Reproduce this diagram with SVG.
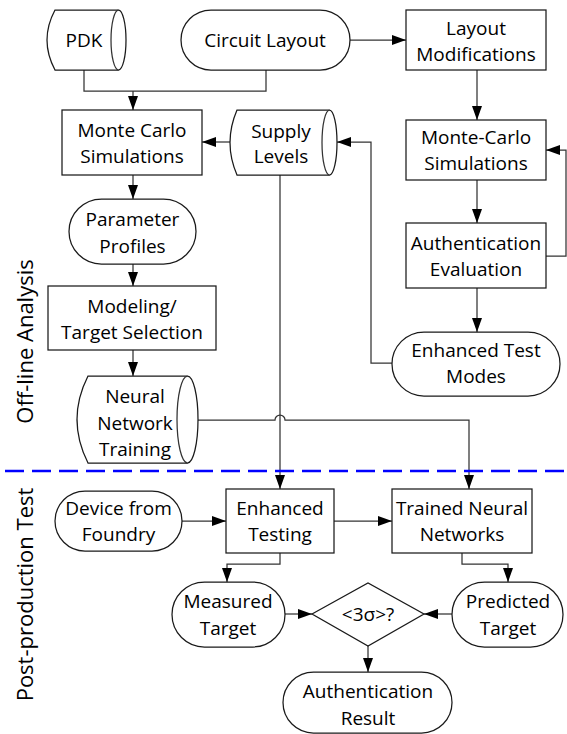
<svg xmlns="http://www.w3.org/2000/svg" width="567" height="734" viewBox="0 0 567 734">
<defs>
<marker id="arr" markerUnits="userSpaceOnUse" markerWidth="14" markerHeight="10" refX="14" refY="5" orient="auto">
<path d="M0,0 L14,5 L0,10 Z" fill="#000"/>
</marker>
<style>
.s{fill:#fff;stroke:#1a1a1a;stroke-width:1.25}
.c{fill:none;stroke:#333;stroke-width:1.25;marker-end:url(#arr)}
.n{fill:none;stroke:#333;stroke-width:1.25}
text{font-family:"Open Sans","Liberation Sans",Arial,sans-serif;font-size:19px;fill:#000;text-anchor:middle}
.side{font-size:22px}
</style>
</defs>
<rect width="567" height="734" fill="#fff"/>

<g id="connectors">
<path class="n" d="M84,70 V91 H266 V70"/>
<path class="c" d="M133,91 V110"/>
<path class="c" d="M350,40 H406"/>
<path class="c" d="M230,142 H202"/>
<path class="c" d="M477,70 V120"/>
<path class="c" d="M477,180 V223"/>
<path class="c" d="M477,288 V332"/>
<path class="c" d="M546,256 H566 V150 H546"/>
<path class="c" d="M392,363 H371 V142 H337"/>
<path class="c" d="M133,175 V199"/>
<path class="c" d="M133,264 V286"/>
<path class="c" d="M133,350 V376"/>
<path class="c" d="M280,175 V489"/>
<path class="c" d="M198,420 H275 A5,5 0 0 1 285,420 H469 V489"/>
<path class="c" d="M182,521 H226"/>
<path class="c" d="M334,521 H392"/>
<path class="c" d="M280,553 V564 H227 V582"/>
<path class="c" d="M462,553 V564 H508 V582"/>
<path class="c" d="M285,614 H312"/>
<path class="c" d="M452,614 H424"/>
<path class="c" d="M368,646 V672"/>
</g>

<line x1="5" y1="471" x2="567" y2="471" stroke="#0000ff" stroke-width="2.5" stroke-dasharray="19 8"/>

<g id="pdk">
<path class="s" d="M55,10 H118.5 A7.5,30 0 0 1 118.5,70 H55 Q39,40 55,10 Z"/>
<path class="n" d="M118.5,10 A7.5,30 0 0 0 118.5,70"/>
<text x="84" y="47">PDK</text>
</g>

<g id="circuit-layout">
<rect class="s" x="181" y="10" width="169" height="60" rx="30" ry="30"/>
<text x="265" y="47">Circuit Layout</text>
</g>

<g id="layout-modifications">
<rect class="s" x="406" y="10" width="140" height="60"/>
<text x="476" y="35">Layout</text>
<text x="476" y="61">Modifications</text>
</g>

<g id="monte-carlo-1">
<rect class="s" x="62" y="110" width="140" height="65"/>
<text x="132" y="137">Monte Carlo</text>
<text x="132" y="163">Simulations</text>
</g>

<g id="supply-levels">
<path class="s" d="M237,110 H329.5 A7.5,32.5 0 0 1 329.5,175 H237 Q223,142.5 237,110 Z"/>
<path class="n" d="M329.5,110 A7.5,32.5 0 0 0 329.5,175"/>
<text x="281" y="138">Supply</text>
<text x="281" y="163">Levels</text>
</g>

<g id="monte-carlo-2">
<rect class="s" x="406" y="120" width="140" height="60"/>
<text x="476" y="144">Monte-Carlo</text>
<text x="476" y="170">Simulations</text>
</g>

<g id="parameter-profiles">
<rect class="s" x="69" y="199" width="127" height="65" rx="32.5" ry="32.5"/>
<text x="132.5" y="226">Parameter</text>
<text x="132.5" y="253">Profiles</text>
</g>

<g id="authentication-evaluation">
<rect class="s" x="406" y="223" width="140" height="65"/>
<text x="476" y="250">Authentication</text>
<text x="476" y="276">Evaluation</text>
</g>

<g id="modeling">
<rect class="s" x="48" y="286" width="168" height="64"/>
<text x="132" y="313">Modeling/</text>
<text x="132" y="339">Target Selection</text>
</g>

<g id="enhanced-test-modes">
<rect class="s" x="392" y="332" width="168" height="64" rx="32" ry="32"/>
<text x="476" y="357">Enhanced Test</text>
<text x="476" y="383">Modes</text>
</g>

<g id="nn-training">
<path class="s" d="M88,376 H187.5 A10.5,43.5 0 0 1 187.5,463 H88 Q66,419.5 88,376 Z"/>
<path class="n" d="M187.5,376 A10.5,43.5 0 0 0 187.5,463"/>
<text x="135" y="403">Neural</text>
<text x="135" y="430">Network</text>
<text x="135" y="456">Training</text>
</g>

<text class="side" transform="translate(33,341.5) rotate(-90)">Off-line Analysis</text>
<text class="side" transform="translate(33,594.5) rotate(-90)">Post-production Test</text>

<g id="device-from-foundry">
<rect class="s" x="55" y="491" width="127" height="60" rx="30" ry="30"/>
<text x="118.5" y="515">Device from</text>
<text x="118.5" y="541">Foundry</text>
</g>

<g id="enhanced-testing">
<rect class="s" x="226" y="489" width="108" height="64"/>
<text x="280" y="515">Enhanced</text>
<text x="280" y="541">Testing</text>
</g>

<g id="trained-nn">
<rect class="s" x="392" y="489" width="140" height="64"/>
<text x="462" y="515">Trained Neural</text>
<text x="462" y="541">Networks</text>
</g>

<g id="measured-target">
<rect class="s" x="172" y="582" width="113" height="65" rx="32.5" ry="32.5"/>
<text x="228" y="608">Measured</text>
<text x="228" y="635">Target</text>
</g>

<g id="decision">
<polygon class="s" points="312,614 368,583 424,614 368,646"/>
<text x="368" y="621">&lt;3σ&gt;?</text>
</g>

<g id="predicted-target">
<rect class="s" x="452" y="582" width="111" height="65" rx="32.5" ry="32.5"/>
<text x="508" y="608">Predicted</text>
<text x="508" y="635">Target</text>
</g>

<g id="authentication-result">
<rect class="s" x="283" y="672" width="169" height="61" rx="30.5" ry="30.5"/>
<text x="368" y="698">Authentication</text>
<text x="368" y="725">Result</text>
</g>
</svg>
